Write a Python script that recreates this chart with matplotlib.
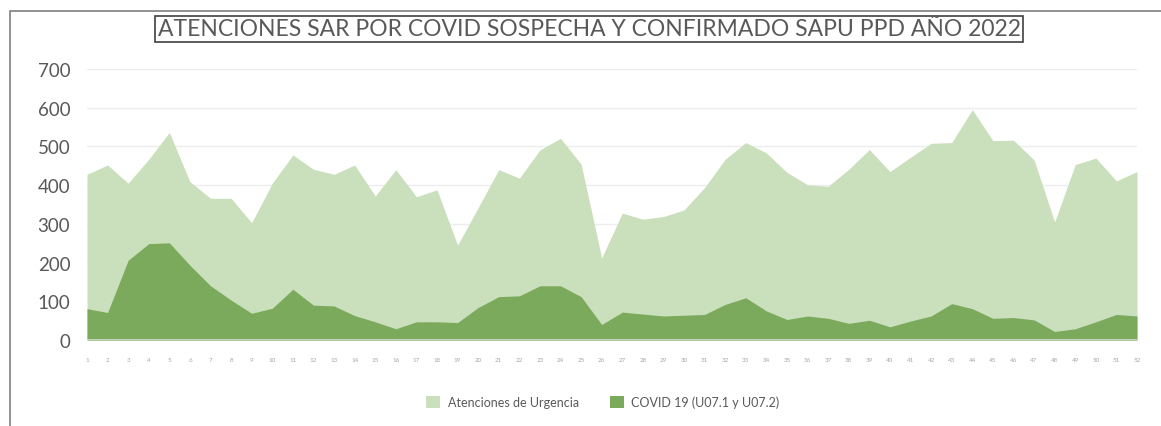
import matplotlib
matplotlib.use("Agg")
from matplotlib import pyplot as plt
from matplotlib.patches import Patch, Rectangle
import numpy as np

plt.rcParams['font.family'] = ['Lato', 'DejaVu Sans']

semanas = list(range(1, 53))

# Atenciones de Urgencia (total)
urgencia = [428, 452, 405, 467, 536, 409, 366, 366, 303, 405,
            478, 441, 428, 452, 372, 440, 370, 388, 245, 342,
            440, 418, 491, 521, 454, 212, 328, 312, 319, 336,
            394, 467, 510, 483, 433, 401, 397, 441, 492, 435,
            472, 508, 510, 595, 515, 516, 465, 305, 453, 470,
            411, 435]

# COVID 19 (U07.1 y U07.2)
covid = [81, 71, 206, 249, 251, 193, 140, 103, 69, 82,
         131, 90, 88, 63, 47, 29, 47, 47, 45, 84,
         112, 114, 140, 140, 112, 40, 72, 67, 62, 64,
         66, 92, 109, 75, 53, 62, 56, 43, 51, 34,
         49, 62, 94, 81, 56, 58, 52, 22, 29, 47,
         66, 62]

titulo = "ATENCIONES SAR POR COVID SOSPECHA Y CONFIRMADO SAPU PPD AÑO 2022"
etiquetas = ["Atenciones de Urgencia", "COVID 19 (U07.1 y U07.2)"]

verde_claro = "#CADFBC"
verde_oscuro = "#7BAA5D"
gris = "#595959"

W, H = 1161, 427
fig = plt.figure(figsize=(W / 100, H / 100), dpi=100)

# chart frame (cut off on right and bottom like the screenshot)
fig.patches.append(Rectangle((10 / W, -0.1), 1.2, (H - 12) / H + 0.1,
                             transform=fig.transFigure, fill=False,
                             edgecolor="#7F7F7F", lw=1.2))

ax = fig.add_axes([87 / W, (H - 341) / H, (1137 - 87) / W, (341 - 70) / H])

ax.fill_between(semanas, 0, urgencia, color=verde_claro, lw=0, zorder=2)
ax.fill_between(semanas, 0, covid, color=verde_oscuro, lw=0, zorder=3)

ax.set_xlim(1, 52)
ax.set_ylim(0, 700)
ax.set_yticks(range(0, 701, 100))
ax.set_xticks(semanas)
ax.set_xticklabels([str(s) for s in semanas], fontsize=4.5, color="#A6A6A6")
ax.tick_params(axis='x', length=0, pad=12)
ax.tick_params(axis='y', length=0, pad=12, labelsize=13.5, labelcolor=gris)

for v in range(100, 701, 100):
    ax.axhline(v, color="#EDEDED", lw=1, zorder=1)
ax.axhline(0, color="#D9D9D9", lw=1.2, zorder=4)

for s in ax.spines.values():
    s.set_visible(False)

fig.text(589 / W, (H - 30) / H, titulo, ha="center", va="center",
         fontsize=16.5, color=gris,
         bbox=dict(boxstyle="square,pad=0.1", facecolor="white",
                   edgecolor="#404040", lw=1.2))

handles = [Patch(facecolor=verde_claro, edgecolor="none"),
           Patch(facecolor=verde_oscuro, edgecolor="none")]
fig.legend(handles, etiquetas, loc="center", bbox_to_anchor=(603 / W, (H - 403) / H),
           ncol=2, frameon=False, fontsize=9, labelcolor=gris,
           handlelength=1.1, handleheight=1.1, columnspacing=2.5, handletextpad=0.6)

fig.savefig("out.png", dpi=100)
